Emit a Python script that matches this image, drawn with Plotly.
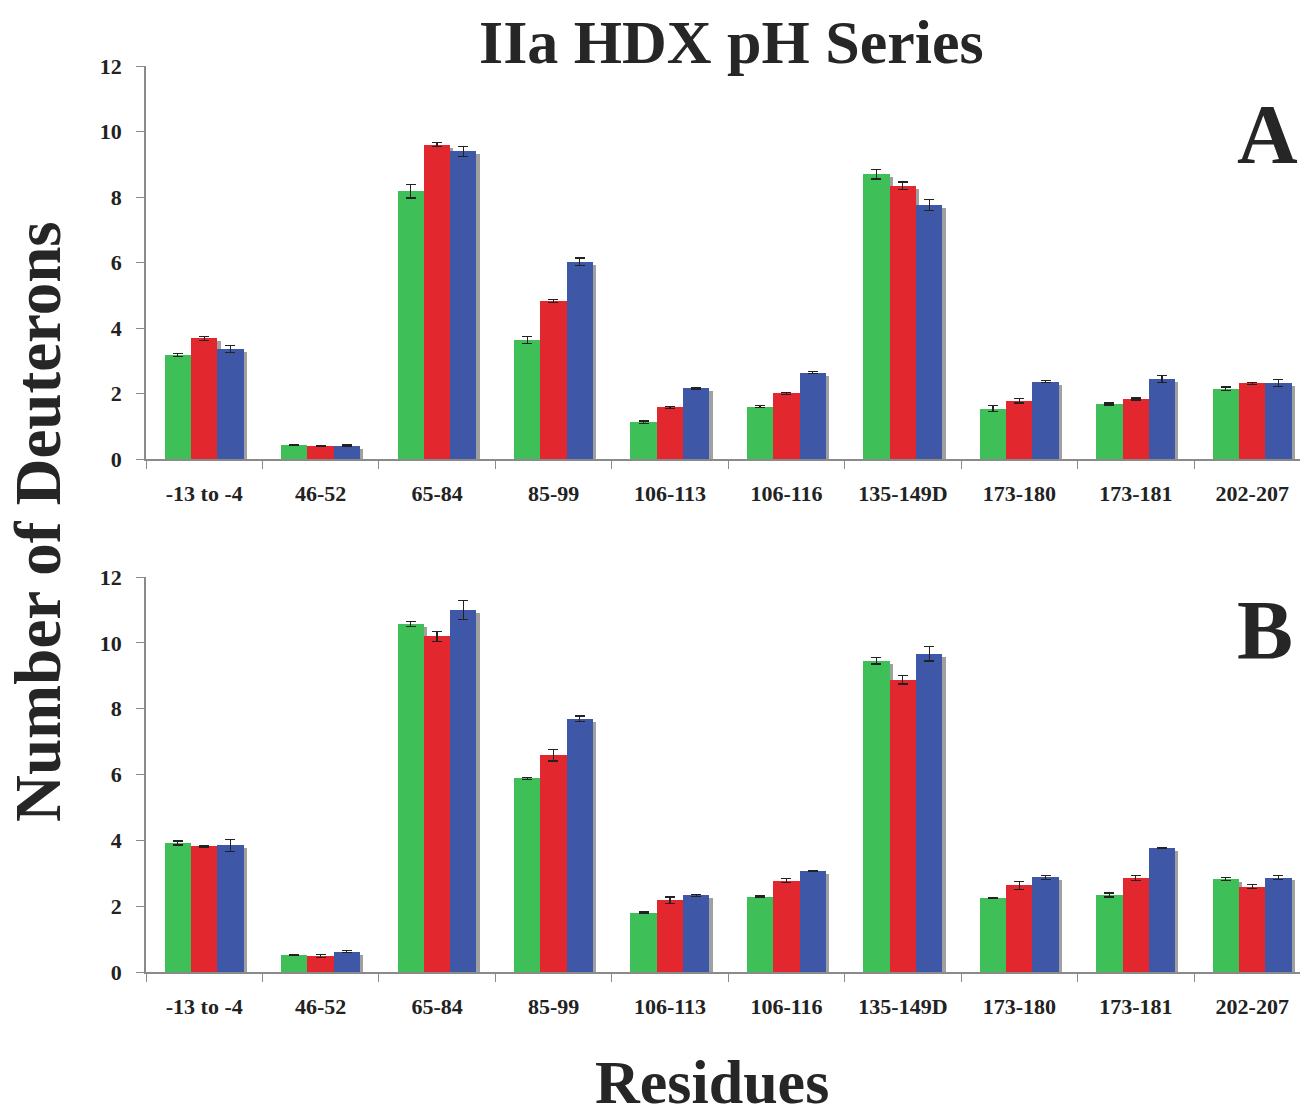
import plotly.graph_objects as go

residues = ["-13 to -4", "46-52", "65-84", "85-99", "106-113", "106-116",
            "135-149D", "173-180", "173-181", "202-207"]

# Panel A
a_green = [3.17, 0.43, 8.17, 3.63, 1.12, 1.60, 8.70, 1.54, 1.68, 2.14]
a_red = [3.68, 0.40, 9.60, 4.83, 1.58, 2.01, 8.34, 1.78, 1.83, 2.31]
a_blue = [3.36, 0.41, 9.39, 6.02, 2.16, 2.63, 7.75, 2.36, 2.44, 2.32]
a_green_err = [0.04, 0.02, 0.20, 0.10, 0.04, 0.03, 0.15, 0.10, 0.03, 0.06]
a_red_err = [0.05, 0.02, 0.06, 0.04, 0.03, 0.03, 0.12, 0.07, 0.03, 0.03]
a_blue_err = [0.10, 0.02, 0.15, 0.12, 0.02, 0.03, 0.17, 0.03, 0.10, 0.10]

# Panel B
b_green = [3.92, 0.51, 10.58, 5.88, 1.80, 2.29, 9.46, 2.25, 2.34, 2.82]
b_red = [3.82, 0.48, 10.20, 6.58, 2.18, 2.77, 8.88, 2.63, 2.85, 2.59]
b_blue = [3.85, 0.62, 11.00, 7.70, 2.33, 3.07, 9.67, 2.88, 3.76, 2.87]
b_green_err = [0.06, 0.02, 0.08, 0.02, 0.02, 0.02, 0.10, 0.02, 0.06, 0.04]
b_red_err = [0.02, 0.04, 0.15, 0.17, 0.10, 0.06, 0.13, 0.12, 0.08, 0.06]
b_blue_err = [0.18, 0.03, 0.28, 0.08, 0.03, 0.02, 0.22, 0.06, 0.02, 0.07]

GREEN = "#3fbf58"
RED = "#e3272f"
BLUE = "#3f57a7"
SHADOW = "#a0a0a0"
FONT = "Liberation Serif"

BW = 0.226
offsets = [-0.34, -0.34 + BW, -0.34 + 2 * BW]

fig = go.Figure()

panels = [
    ("x", "y", [a_green, a_red, a_blue], [a_green_err, a_red_err, a_blue_err]),
    ("x2", "y2", [b_green, b_red, b_blue], [b_green_err, b_red_err, b_blue_err]),
]

for xa, ya, series, errs in panels:
    # shadows first
    for vals, off in zip(series, offsets):
        fig.add_trace(go.Bar(
            x=residues, y=[max(v - 0.09, 0) for v in vals],
            offset=off + 0.028, width=BW,
            marker=dict(color=SHADOW, line=dict(width=0)),
            xaxis=xa, yaxis=ya, showlegend=False, hoverinfo="skip"))
    for vals, err, off, col in zip(series, errs, offsets, [GREEN, RED, BLUE]):
        fig.add_trace(go.Bar(
            x=residues, y=vals, offset=off, width=BW,
            marker=dict(color=col, line=dict(width=0)),
            error_y=dict(type="data", array=err, visible=True,
                         color="#222222", thickness=1.2, width=5),
            xaxis=xa, yaxis=ya, showlegend=False))

axis_common_x = dict(
    type="category", range=[-0.5, 9.41], showgrid=False, zeroline=False,
    showline=True, linecolor="#8a8a8a", linewidth=1.5,
    ticks="outside", tickson="boundaries", ticklen=8, tickcolor="#8a8a8a",
    ticklabelstandoff=14,
    tickfont=dict(family=FONT, size=22, color="#222222", weight="bold"),
    domain=[146 / 1300, 1.0], fixedrange=True,
)
axis_common_y = dict(
    range=[0, 12], tickvals=[0, 2, 4, 6, 8, 10, 12], showgrid=False,
    zeroline=False, showline=True, linecolor="#8a8a8a", linewidth=1.5,
    ticks="outside", ticklen=8, tickcolor="#8a8a8a",
    ticklabelstandoff=10,
    tickfont=dict(family=FONT, size=22, color="#222222", weight="bold"),
    fixedrange=True,
)


def ann(text, px, py, size, angle=0):
    return dict(text=text, x=px / 1300, y=1 - py / 1119,
                xref="paper", yref="paper", showarrow=False,
                xanchor="center", yanchor="middle", textangle=angle,
                font=dict(family=FONT, size=size, color="#262626", weight="bold"))


fig.update_layout(
    width=1300, height=1119,
    margin=dict(l=0, r=0, t=0, b=0, autoexpand=False),
    paper_bgcolor="white", plot_bgcolor="white",
    barmode="overlay", bargap=0,
    xaxis=dict(axis_common_x, anchor="y"),
    yaxis=dict(axis_common_y, domain=[1 - 459 / 1119, 1 - 66 / 1119], anchor="x"),
    xaxis2=dict(axis_common_x, anchor="y2"),
    yaxis2=dict(axis_common_y, domain=[1 - 972 / 1119, 1 - 577 / 1119], anchor="x2"),
    annotations=[
        ann("IIa HDX pH Series", 731, 42, 62),
        ann("A", 1267, 135, 84),
        ann("B", 1265, 630, 84),
        ann("Number of Deuterons", 38, 522, 65, -90),
        ann("Residues", 712, 1082, 62),
    ],
)

fig.write_html("out.html")
